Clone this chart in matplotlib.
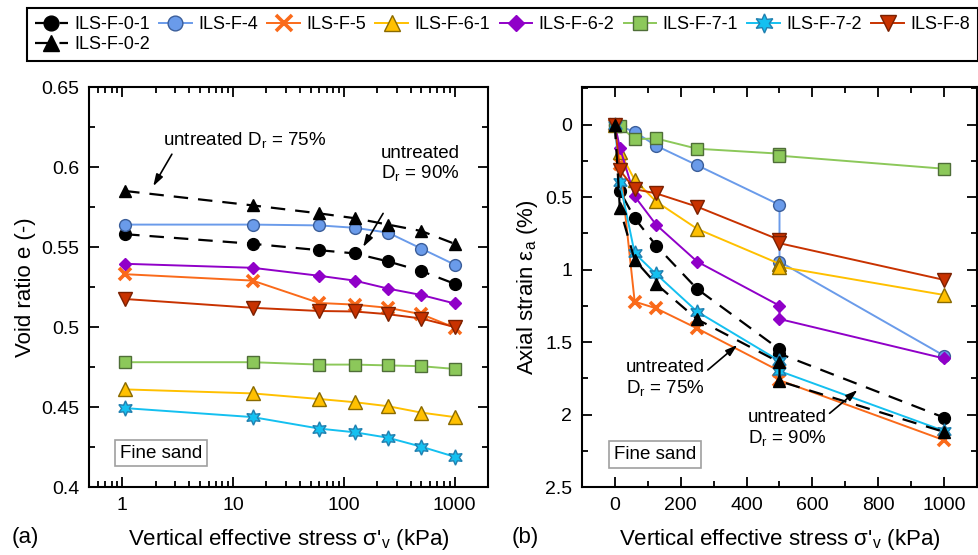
import numpy as np
import matplotlib
matplotlib.use('Agg')
from matplotlib import pyplot as plt
from matplotlib.ticker import MultipleLocator, FormatStrFormatter, NullFormatter

plt.rcParams['font.family'] = ['Liberation Sans', 'DejaVu Sans']
plt.rcParams['mathtext.fontset'] = 'custom'
plt.rcParams['mathtext.rm'] = 'Liberation Sans'
plt.rcParams['mathtext.it'] = 'Liberation Sans:italic'

# 試料名（凡例の並び順）
names = ['ILS-F-0-1', 'ILS-F-0-2', 'ILS-F-4', 'ILS-F-5', 'ILS-F-6-1',
         'ILS-F-6-2', 'ILS-F-7-1', 'ILS-F-7-2', 'ILS-F-8']

# (a) 間隙比 e - 鉛直有効応力 (log)
stress_e = [1.06, 15, 60, 125, 250, 500, 1000]
void_ratio = {
    'ILS-F-0-1': [0.558, 0.552, 0.548, 0.546, 0.541, 0.535, 0.527],
    'ILS-F-0-2': [0.585, 0.576, 0.571, 0.568, 0.564, 0.560, 0.552],
    'ILS-F-4':   [0.564, 0.564, 0.5635, 0.562, 0.559, 0.549, 0.539],
    'ILS-F-5':   [0.533, 0.529, 0.515, 0.514, 0.512, 0.508, 0.4996],
    'ILS-F-6-1': [0.461, 0.4585, 0.455, 0.453, 0.4505, 0.4465, 0.4437],
    'ILS-F-6-2': [0.5395, 0.537, 0.532, 0.529, 0.524, 0.520, 0.5147],
    'ILS-F-7-1': [0.478, 0.478, 0.4765, 0.4765, 0.476, 0.4755, 0.4738],
    'ILS-F-7-2': [0.4493, 0.4437, 0.4365, 0.4342, 0.4308, 0.4252, 0.4189],
    'ILS-F-8':   [0.5175, 0.512, 0.510, 0.5097, 0.508, 0.5053, 0.500],
}

# (b) 軸ひずみ - 鉛直有効応力（500 kPa は載荷直後とクリープ後の2点）
stress_a = [0, 15, 60, 125, 250, 500, 500, 1000]
axial_strain = {
    'ILS-F-0-1': [0, 0.458, 0.645, 0.834, 1.134, 1.55, 1.58, 2.021],
    'ILS-F-0-2': [0, 0.578, 0.933, 1.099, 1.343, 1.64, 1.77, 2.12],
    'ILS-F-4':   [0, 0.01, 0.05, 0.145, 0.28, 0.553, 0.945, 1.594],
    'ILS-F-5':   [0, 0.27, 1.221, 1.267, 1.406, 1.70, 1.763, 2.177],
    'ILS-F-6-1': [0, 0.19, 0.38, 0.53, 0.719, 0.96, 0.98, 1.175],
    'ILS-F-6-2': [0, 0.159, 0.494, 0.69, 0.945, 1.249, 1.341, 1.613],
    'ILS-F-7-1': [0, 0.01, 0.10, 0.095, 0.166, 0.20, 0.214, 0.304],
    'ILS-F-7-2': [0, 0.394, 0.887, 1.03, 1.29, 1.63, 1.70, 2.113],
    'ILS-F-8':   [0, 0.313, 0.445, 0.474, 0.566, 0.795, 0.818, 1.071],
}

# 系列ごとの線種・マーカー
styles = {
    'ILS-F-0-1': dict(color='k', ls=(0, (6.5, 4.5)), lw=1.6, marker='o', ms=8.5, mfc='k', mec='k'),
    'ILS-F-0-2': dict(color='k', ls=(0, (6.5, 4.5)), lw=1.6, marker='^', ms=9, mfc='k', mec='k'),
    'ILS-F-4':   dict(color='#6A9BEA', lw=1.4, marker='o', ms=8.5, mfc='#6A9BEA', mec='#3B5E9A'),
    'ILS-F-5':   dict(color='#FA6A1A', lw=1.4, marker='x', ms=9, mew=2.6, mec='#FA6A1A'),
    'ILS-F-6-1': dict(color='#FFC000', lw=1.4, marker='^', ms=9.5, mfc='#FFC000', mec='#8A6A00'),
    'ILS-F-6-2': dict(color='#9000C8', lw=1.4, marker='D', ms=6.5, mfc='#9000C8', mec='#9000C8'),
    'ILS-F-7-1': dict(color='#8CC85A', lw=1.4, marker='s', ms=8, mfc='#8CC85A', mec='#4F6E38'),
    'ILS-F-7-2': dict(color='#14C0F0', lw=1.4, marker=(6, 1, 0), ms=11, mfc='#14C0F0', mec='#2080B0'),
    'ILS-F-8':   dict(color='#C83200', lw=1.4, marker='v', ms=9.5, mfc='#C83200', mec='#7A2000'),
}
plot_order = ['ILS-F-0-1', 'ILS-F-4', 'ILS-F-5', 'ILS-F-6-1', 'ILS-F-6-2',
              'ILS-F-7-1', 'ILS-F-7-2', 'ILS-F-8', 'ILS-F-0-2']

LABEL_FS = 16
TICK_FS = 14
TEXT_FS = 13.5

fig = plt.figure(figsize=(9.79, 5.55), dpi=100)
W, H = 979, 555
ax1 = fig.add_axes([89 / W, 1 - 487 / H, 399 / W, 400 / H])
ax2 = fig.add_axes([582 / W, 1 - 487 / H, 395 / W, 400 / H])


def style_axes(ax):
    for sp in ax.spines.values():
        sp.set_linewidth(1.5)
    ax.tick_params(which='both', direction='in', top=True, right=True,
                   width=1.3, labelsize=TICK_FS, pad=7)
    ax.tick_params(which='major', length=7)
    ax.tick_params(which='minor', length=4)


handles = {}
for n in plot_order:
    h, = ax1.plot(stress_e, void_ratio[n], label=n, **styles[n])
    handles[n] = h
    ax2.plot(stress_a, axial_strain[n], **styles[n])

# (a) 軸設定
ax1.set_xscale('log')
ax1.set_xlim(0.5, 2000)
ax1.set_ylim(0.4, 0.65)
ax1.set_xticks([1, 10, 100, 1000])
ax1.set_xticklabels(['1', '10', '100', '1000'])
ax1.xaxis.set_minor_formatter(NullFormatter())
ax1.yaxis.set_major_locator(MultipleLocator(0.05))
ax1.yaxis.set_minor_locator(MultipleLocator(0.025))
ax1.yaxis.set_major_formatter(FormatStrFormatter('%g'))
style_axes(ax1)
ax1.set_xlabel("Vertical effective stress σ'$_\\mathrm{v}$ (kPa)", fontsize=LABEL_FS)
ax1.set_ylabel('Void ratio e (-)', fontsize=LABEL_FS)
ax1.xaxis.set_label_coords(0.5, -0.1)

# (b) 軸設定
ax2.set_xlim(-100, 1100)
ax2.set_ylim(2.5, -0.26)
ax2.xaxis.set_major_locator(MultipleLocator(200))
ax2.xaxis.set_minor_locator(MultipleLocator(100))
ax2.yaxis.set_major_locator(MultipleLocator(0.5))
ax2.yaxis.set_minor_locator(MultipleLocator(0.25))
ax2.yaxis.set_major_formatter(FormatStrFormatter('%g'))
style_axes(ax2)
ax2.set_xlabel("Vertical effective stress σ'$_\\mathrm{v}$ (kPa)", fontsize=LABEL_FS)
ax2.set_ylabel('Axial strain ε$_\\mathrm{a}$ (%)', fontsize=LABEL_FS)
ax2.xaxis.set_label_coords(0.5, -0.1)

# 注記（未処理試料）
arrow = dict(arrowstyle='-|>,head_length=0.7,head_width=0.22', color='k', lw=1.2,
             shrinkA=0, shrinkB=0)
ax1.text(2.35, 0.617, 'untreated D$_\\mathrm{r}$ = 75%', fontsize=TEXT_FS,
         ha='left', va='center')
ax1.annotate('', xy=(1.9, 0.588), xytext=(2.8, 0.608), arrowprops=arrow)
ax1.text(215, 0.602, 'untreated\nD$_\\mathrm{r}$ = 90%', fontsize=TEXT_FS,
         ha='left', va='center', linespacing=1.1)
ax1.annotate('', xy=(149, 0.55), xytext=(226, 0.571), arrowprops=arrow)

ax2.text(152, 1.75, 'untreated\nD$_\\mathrm{r}$ = 75%', fontsize=TEXT_FS,
         ha='center', va='center', linespacing=1.1)
ax2.annotate('', xy=(372, 1.52), xytext=(282, 1.693), arrowprops=arrow)
ax2.text(523, 2.097, 'untreated\nD$_\\mathrm{r}$ = 90%', fontsize=TEXT_FS,
         ha='center', va='center', linespacing=1.1)
ax2.annotate('', xy=(737, 1.831), xytext=(652, 1.992), arrowprops=arrow)

box = dict(boxstyle='square,pad=0.25', fc='white', ec='#A0A0A0', lw=1.2)
ax1.text(0.077, 0.085, 'Fine sand', transform=ax1.transAxes, fontsize=TEXT_FS,
         ha='left', va='center', bbox=box)
ax2.text(0.08, 0.081, 'Fine sand', transform=ax2.transAxes, fontsize=TEXT_FS,
         ha='left', va='center', bbox=box)

fig.text(12 / W, 1 - 538 / H, '(a)', fontsize=LABEL_FS, va='center', ha='left')
fig.text(512 / W, 1 - 538 / H, '(b)', fontsize=LABEL_FS, va='center', ha='left')

# 凡例（上部に横並び）
leg = fig.legend([handles[n] for n in names], names, loc='upper left',
                 bbox_to_anchor=(27 / W, 1 - 8 / H, 951 / W, 0), mode='expand',
                 ncol=8, fontsize=13, handlelength=1.8, handletextpad=0.35,
                 columnspacing=0.4, labelspacing=0.15, borderaxespad=0,
                 borderpad=0.45, markerscale=1.25, fancybox=False,
                 edgecolor='k', framealpha=1)
leg.get_frame().set_linewidth(1.5)

fig.savefig('out.png', dpi=100)
